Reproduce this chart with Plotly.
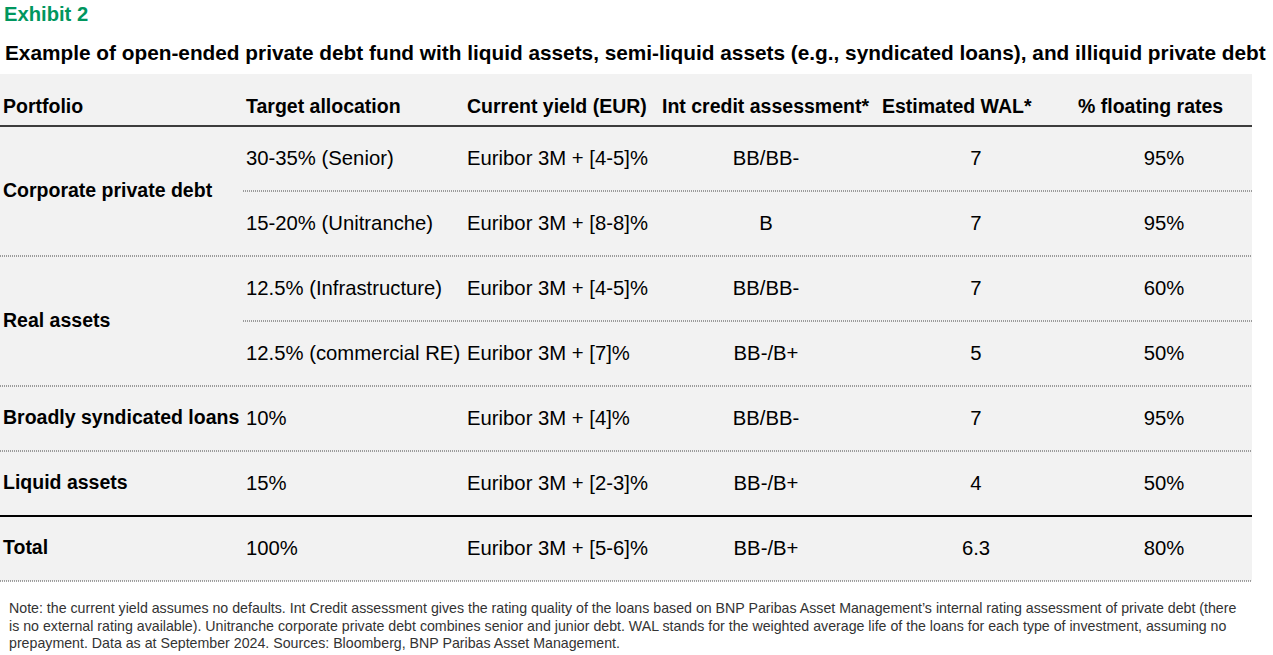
import plotly.graph_objects as go

# -----------------------------------------------------------------------------
# Table content
# -----------------------------------------------------------------------------
headers = ["Portfolio", "Target allocation", "Current yield (EUR)",
           "Int credit assessment*", "Estimated WAL*", "% floating rates"]

groups = ["Corporate private debt", "Real assets", "Broadly syndicated loans",
          "Liquid assets", "Total"]
group_sizes = [2, 2, 1, 1, 1]

allocation = ["30-35% (Senior)", "15-20% (Unitranche)", "12.5% (Infrastructure)",
              "12.5% (commercial RE)", "10%", "15%", "100%"]
current_yield = ["Euribor 3M + [4-5]%", "Euribor 3M + [8-8]%", "Euribor 3M + [4-5]%",
                 "Euribor 3M + [7]%", "Euribor 3M + [4]%", "Euribor 3M + [2-3]%",
                 "Euribor 3M + [5-6]%"]
credit = ["BB/BB-", "B", "BB/BB-", "BB-/B+", "BB/BB-", "BB-/B+", "BB-/B+"]
wal = [7, 7, 7, 5, 7, 4, 6.3]
floating = [95, 95, 60, 50, 95, 50, 80]

exhibit = "Exhibit 2"
title = ("Example of open-ended private debt fund with liquid assets, semi-liquid assets "
         "(e.g., syndicated loans), and illiquid private debt")
note_lines = [
    "Note: the current yield assumes no defaults. Int Credit assessment gives the rating quality of the loans "
    "based on BNP Paribas Asset Management\u2019s internal rating assessment of private debt (there",
    "is no external rating available). Unitranche corporate private debt combines senior and junior debt. "
    "WAL stands for the weighted average life of the loans for each type of investment, assuming no",
    "prepayment. Data as at September 2024. Sources: Bloomberg, BNP Paribas Asset Management.",
]

# -----------------------------------------------------------------------------
# Layout geometry (pixel-based axes)
# -----------------------------------------------------------------------------
W, H = 1273, 655
TABLE_RIGHT = 1252
TABLE_TOP = 74
HEADER_Y = 108
BODY_TOP = 126
ROW_H = 65
SUB_X0 = 243
TEXT_NUDGE = 1
NOTE_Y0, NOTE_DY = 608, 17.5

header_x = [3, 246, 467, 662, 882, 1078]
left_x = {"portfolio": 3, "alloc": 246, "yield": 467}
center_x = {"credit": 766, "wal": 976, "float": 1164}

FONT = "Liberation Sans"
BOLD = dict(family=FONT, size=19.5, color="#000000", weight="bold")
REG = dict(family=FONT, size=20.3, color="#000000")

n_rows = len(allocation)
row_y = [BODY_TOP + ROW_H * (i + 0.5) + TEXT_NUDGE for i in range(n_rows)]

group_y = []
start = 0
for size in group_sizes:
    group_y.append(sum(row_y[start:start + size]) / size)
    start += size

fig = go.Figure()


def text_col(xs, ys, texts, font, pos):
    fig.add_trace(go.Scatter(x=xs, y=ys, text=texts, mode="text", textposition=pos,
                             textfont=font, hoverinfo="skip", showlegend=False))


text_col(header_x, [HEADER_Y] * len(headers), headers, BOLD, "middle right")
text_col([left_x["portfolio"]] * len(groups), group_y, groups, BOLD, "middle right")
text_col([left_x["alloc"]] * n_rows, row_y, allocation, REG, "middle right")
text_col([left_x["yield"]] * n_rows, row_y, current_yield, REG, "middle right")
text_col([center_x["credit"]] * n_rows, row_y, credit, REG, "middle center")
text_col([center_x["wal"]] * n_rows, row_y, [f"{v:g}" for v in wal], REG, "middle center")
text_col([center_x["float"]] * n_rows, row_y, [f"{v}%" for v in floating], REG, "middle center")

# background + rules
shapes = [dict(type="rect", xref="x", yref="y", x0=0, x1=TABLE_RIGHT, y0=TABLE_TOP,
               y1=BODY_TOP + ROW_H * n_rows, fillcolor="#f2f2f2", line_width=0, layer="below")]
shapes.append(dict(type="line", xref="x", yref="y", x0=0, x1=TABLE_RIGHT, y0=BODY_TOP, y1=BODY_TOP,
                   line=dict(color="#000000", width=1.6)))

boundary = 0
for gi, size in enumerate(group_sizes):
    for k in range(1, size):
        yb = BODY_TOP + ROW_H * (boundary + k)
        shapes.append(dict(type="line", xref="x", yref="y", x0=SUB_X0, x1=TABLE_RIGHT, y0=yb, y1=yb,
                           line=dict(color="#444444", width=1, dash="1px,1px")))
    boundary += size
    yb = BODY_TOP + ROW_H * boundary
    if gi == len(group_sizes) - 2:
        line = dict(color="#000000", width=2)
    else:
        line = dict(color="#444444", width=1, dash="1px,1px")
    shapes.append(dict(type="line", xref="x", yref="y", x0=0, x1=TABLE_RIGHT, y0=yb, y1=yb, line=line))

annotations = [
    dict(x=2, y=14, xref="x", yref="y", text=f"<b>{exhibit}</b>", showarrow=False,
         xanchor="left", yanchor="middle", font=dict(family=FONT, size=20.2, color="#00965E")),
    dict(x=3, y=52, xref="x", yref="y", text=f"<b>{title}</b>", showarrow=False,
         xanchor="left", yanchor="middle", font=dict(family=FONT, size=20.8, color="#000000")),
]
for i, line_text in enumerate(note_lines):
    annotations.append(dict(x=7, y=NOTE_Y0 + NOTE_DY * i, xref="x", yref="y", text=line_text,
                            showarrow=False, xanchor="left", yanchor="middle", align="left",
                            font=dict(family=FONT, size=14.2, color="#333333")))

fig.update_layout(
    width=W, height=H,
    margin=dict(l=0, r=0, t=0, b=0),
    paper_bgcolor="white", plot_bgcolor="white",
    xaxis=dict(range=[0, W], visible=False, fixedrange=True),
    yaxis=dict(range=[H, 0], visible=False, fixedrange=True),
    shapes=shapes, annotations=annotations,
    showlegend=False,
)

fig.write_html("out.html", config={"displayModeBar": False},
               post_script="document.body.style.margin='0';")
